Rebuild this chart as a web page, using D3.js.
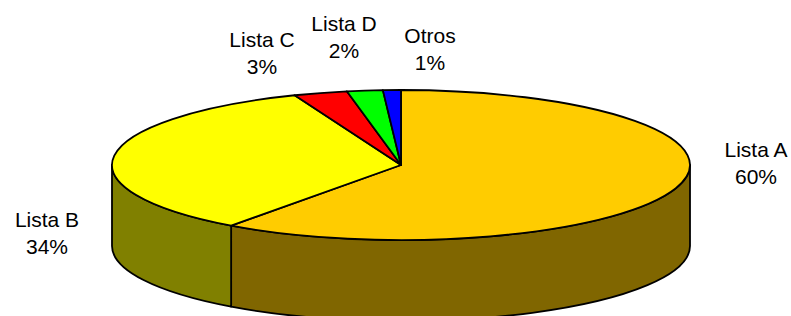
<!DOCTYPE html>
<html>
<head>
<meta charset="utf-8">
<script src="https://cdn.jsdelivr.net/npm/d3@7"></script>
<style>
  body { margin: 0; background: #fff; }
  svg { display: block; }
</style>
</head>
<body>
<svg id="chart"></svg>
<script>
// data
var categories = ["Lista A", "Lista B", "Lista C", "Lista D", "Otros"];
var values = [60, 34, 3, 2, 1];
var topColors = ["#FFCC00", "#FFFF00", "#FF0000", "#00FF00", "#0000FF"];
var sideColors = ["#806600", "#808000", "#800000", "#008000", "#000080"];

// label layout (centre x, first baseline y)
var labelPos = [[756, 157], [47, 227], [262, 47], [344, 31], [430, 43]];

var width = 791, height = 316;
var cx = 401, cy = 165, rx = 289, ry = 75, depth = 81;
var fontsize = 21;

var svg = d3.select("#chart").attr("width", width).attr("height", height);

var total = d3.sum(values);
var rows = categories.map((c, i) => ({ name: c, value: values[i], i: i }));

var pie = d3.pie().sort(null).value(d => d.value).startAngle(0).endAngle(2 * Math.PI);
var arcs = pie(rows);

// point on the ellipse, angle clockwise from 12 o'clock
function pt(a, dy) {
  return [cx + rx * Math.sin(a), cy - ry * Math.cos(a) + (dy || 0)];
}

//*************************side walls (front half only)
var frontA = Math.PI / 2, frontB = 3 * Math.PI / 2;
var sides = arcs.map(d => {
  var a = Math.max(d.startAngle, frontA), b = Math.min(d.endAngle, frontB);
  return { d: d, a: a, b: b };
}).filter(s => s.b > s.a);

svg.append("g").attr("class", "sides")
  .selectAll("path")
  .data(sides)
  .enter()
  .append("path")
  .attr("d", s => {
    var p1 = pt(s.a), p2 = pt(s.b), p3 = pt(s.b, depth), p4 = pt(s.a, depth);
    return "M" + p1 + "A" + rx + "," + ry + " 0 0 1 " + p2 +
      "L" + p3 + "A" + rx + "," + ry + " 0 0 0 " + p4 + "Z";
  })
  .attr("fill", s => sideColors[s.d.data.i])
  .attr("stroke", "#000")
  .attr("stroke-width", 1.8)
  .attr("stroke-linejoin", "round");

//*************************top face
svg.append("g").attr("class", "top")
  .selectAll("path")
  .data(arcs)
  .enter()
  .append("path")
  .attr("d", d => {
    var p1 = pt(d.startAngle), p2 = pt(d.endAngle);
    var large = (d.endAngle - d.startAngle) > Math.PI ? 1 : 0;
    return "M" + cx + "," + cy + "L" + p1 + "A" + rx + "," + ry + " 0 " + large + " 1 " + p2 + "Z";
  })
  .attr("fill", d => topColors[d.data.i])
  .attr("stroke", "#000")
  .attr("stroke-width", 1.8)
  .attr("stroke-linejoin", "round");

//*************************labels
var labels = svg.append("g").attr("class", "labels")
  .selectAll("text")
  .data(arcs)
  .enter()
  .append("text")
  .attr("text-anchor", "middle")
  .style("font-family", "Arial, 'Liberation Sans', sans-serif")
  .style("font-size", fontsize + "px")
  .attr("fill", "#000");

labels.append("tspan")
  .attr("x", d => labelPos[d.data.i][0])
  .attr("y", d => labelPos[d.data.i][1])
  .text(d => d.data.name);

labels.append("tspan")
  .attr("x", d => labelPos[d.data.i][0])
  .attr("y", d => labelPos[d.data.i][1] + 27)
  .text(d => Math.round(d.data.value / total * 100) + "%");
</script>
</body>
</html>
